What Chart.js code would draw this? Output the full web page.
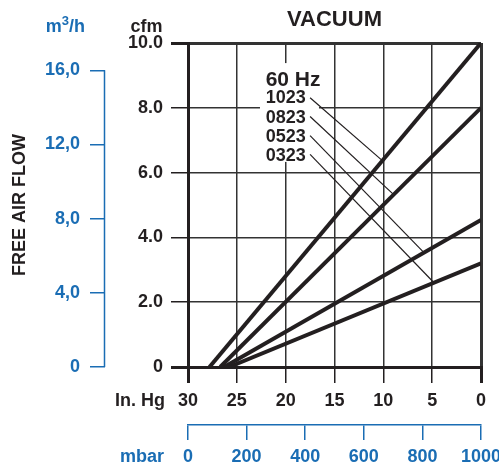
<!DOCTYPE html>
<html><head><meta charset="utf-8">
<script src="https://cdn.jsdelivr.net/npm/chart.js@4.4.1/dist/chart.umd.min.js"></script>
<style>html,body{margin:0;padding:0;background:#fff;}#wrap{width:499px;height:468px;position:relative}</style>
</head><body><div id="wrap"><canvas id="c" width="499" height="468"></canvas></div>
<script>
// ---- data ----
const models = ['1023', '0823', '0523', '0323'];
const zeroFlowVacuum = [27.8, 26.7, 26.3, 25.8];   // inHg where free air flow reaches 0
const openFlow = [10.0, 8.0, 4.54, 3.2];           // cfm at 0 inHg
const leaderStartVacuum = [17.5, 17.5, 17.5, 17.5];
const leaderStartFlow = [8.31, 7.73, 7.14, 6.56];
const leaderEndVacuum = [10.10, 8.94, 5.84, 4.81];
const leaderEndFlow = [6.37, 5.32, 3.53, 2.60];
const labelVacuum = 22.05;
const labelFlow = [8.14, 7.52, 6.95, 6.36];
const headingText = '60 Hz';
const headingFlow = 8.68;
const labelBoxVacuum = [22.63, 16.59];
const labelBoxFlow = [9.38, 6.33];
const inHgTicks = [30, 25, 20, 15, 10, 5, 0];
const cfmTicks = [0, 2, 4, 6, 8, 10];
const m3hTicks = [0, 4, 8, 12, 16];
const m3hMax = 17.47;
const mbarTicks = [0, 200, 400, 600, 800, 1000];

const INK = '#231f20', BLUE = '#1a6db4', GRID = '#333333';
const FONT = "'Liberation Sans', Arial, Helvetica, sans-serif";
Chart.defaults.font.family = FONT;
Chart.defaults.font.weight = 'bold';
Chart.defaults.font.size = 18;
Chart.defaults.color = INK;

const datasets = [];
models.forEach((m, i) => {
  datasets.push({
    label: m,
    data: [{x: zeroFlowVacuum[i], y: 0}, {x: 0, y: openFlow[i]}],
    borderColor: INK, borderWidth: 4, pointRadius: 0, showLine: true, fill: false
  });
});
models.forEach((m, i) => {
  datasets.push({
    label: m + ' leader',
    data: [{x: leaderStartVacuum[i], y: leaderStartFlow[i]}, {x: leaderEndVacuum[i], y: leaderEndFlow[i]}],
    borderColor: INK, borderWidth: 1.2, pointRadius: 0, showLine: true, fill: false
  });
});

const fixTicks = arr => s => { s.ticks = arr.map(v => ({value: v})); };
const edgeWidth = (a, b) => ctx => (ctx.tick && (ctx.tick.value === a || ctx.tick.value === b)) ? 3 : 1.5;

const decor = {
  id: 'decor',
  beforeDatasetsDraw(chart) {
    const {ctx, scales: {x, y}} = chart;
    const x0 = x.getPixelForValue(labelBoxVacuum[0]), x1 = x.getPixelForValue(labelBoxVacuum[1]);
    const y0 = y.getPixelForValue(labelBoxFlow[0]), y1 = y.getPixelForValue(labelBoxFlow[1]);
    ctx.save();
    ctx.fillStyle = '#fff';
    ctx.fillRect(Math.min(x0, x1), Math.min(y0, y1), Math.abs(x1 - x0), Math.abs(y1 - y0));
    ctx.restore();
  },
  afterDraw(chart) {
    const {ctx, chartArea, scales: {x, y, m3h, mbar}} = chart;
    ctx.save();
    // blue m3/h axis line
    ctx.strokeStyle = BLUE; ctx.lineWidth = 1.5;
    ctx.beginPath();
    ctx.moveTo(m3h.right - 0.5, m3h.getPixelForValue(0));
    ctx.lineTo(m3h.right - 0.5, m3h.getPixelForValue(m3hTicks[m3hTicks.length - 1]));
    ctx.stroke();

    // title
    ctx.fillStyle = INK;
    ctx.textBaseline = 'alphabetic';
    ctx.textAlign = 'center';
    ctx.font = 'bold 22px ' + FONT;
    ctx.fillText('VACUUM', (chartArea.left + chartArea.right) / 2, 26);
    // cfm unit
    ctx.font = 'bold 18px ' + FONT;
    ctx.fillText('cfm', (y.left + y.right) / 2, 31.5);
    // m3/h unit
    ctx.fillStyle = BLUE;
    ctx.textAlign = 'left';
    ctx.font = 'bold 18px ' + FONT;
    const wm = ctx.measureText('m').width, wh = ctx.measureText('/h').width;
    ctx.font = 'bold 13px ' + FONT;
    const w3 = ctx.measureText('3').width;
    let sx = m3h.right - 20 - (wm + w3 + wh);
    ctx.font = 'bold 18px ' + FONT;
    ctx.fillText('m', sx, 31.5); sx += wm;
    ctx.font = 'bold 13px ' + FONT;
    ctx.fillText('3', sx, 24.5); sx += w3;
    ctx.font = 'bold 18px ' + FONT;
    ctx.fillText('/h', sx, 31.5);

    // axis names left of the tick rows
    ctx.textBaseline = 'middle';
    ctx.textAlign = 'right';
    ctx.fillStyle = INK;
    ctx.font = 'bold 18px ' + FONT;
    ctx.fillText('In. Hg', x.left - 23, x.top + 16 + 7 + 10.8);
    ctx.fillStyle = BLUE;
    ctx.fillText('mbar', mbar.left - 24, mbar.top + 15 + 6 + 10.8);

    // annotation labels
    ctx.fillStyle = INK;
    ctx.textAlign = 'left';
    ctx.textBaseline = 'alphabetic';
    const lx = x.getPixelForValue(labelVacuum);
    ctx.font = 'bold 21px ' + FONT;
    ctx.fillText(headingText, lx, y.getPixelForValue(headingFlow));
    ctx.font = 'bold 18px ' + FONT;
    models.forEach((m, i) => ctx.fillText(m, lx, y.getPixelForValue(labelFlow[i])));
    ctx.restore();
  }
};

new Chart(document.getElementById('c'), {
  type: 'scatter',
  data: {datasets},
  options: {
    responsive: false, animation: false, events: [],
    layout: {padding: {top: 43, right: 18, left: 0, bottom: 0}},
    plugins: {legend: {display: false}, tooltip: {enabled: false}, title: {display: false}},
    scales: {
      x: {
        type: 'linear', position: 'bottom', reverse: true, min: 0, max: 30, weight: 0,
        afterBuildTicks: fixTicks(inHgTicks),
        ticks: {padding: 7, maxRotation: 0, autoSkip: false, color: INK, callback: v => String(v)},
        grid: {color: GRID, tickColor: INK, lineWidth: edgeWidth(0, 30), tickLength: 16},
        border: {display: true, color: INK, width: 3},
        afterFit: s => { s.height = 58; s.paddingLeft = 0; s.paddingRight = 0; }
      },
      mbar: {
        type: 'linear', position: 'bottom', min: 0, max: 1000, weight: 1,
        afterBuildTicks: fixTicks(mbarTicks),
        ticks: {padding: 6, maxRotation: 0, autoSkip: false, color: BLUE, callback: v => String(v)},
        grid: {drawOnChartArea: false, color: BLUE, lineWidth: 1.5, tickLength: 15},
        border: {display: true, color: BLUE, width: 1.5},
        afterFit: s => { s.height = 43; s.paddingLeft = 0; s.paddingRight = 0; }
      },
      y: {
        type: 'linear', position: 'left', min: 0, max: 10, weight: 0,
        afterBuildTicks: fixTicks(cfmTicks),
        ticks: {padding: 8, color: INK, callback: v => v === 0 ? '0' : v.toFixed(1)},
        grid: {color: GRID, tickColor: INK, lineWidth: edgeWidth(0, 10), tickLength: 17},
        border: {display: true, color: INK, width: 3},
        afterFit: s => { s.width = 83; s.paddingTop = 0; s.paddingBottom = 0; }
      },
      m3h: {
        type: 'linear', position: 'left', min: 0, max: m3hMax, weight: 1,
        afterBuildTicks: fixTicks(m3hTicks),
        ticks: {padding: 10, color: BLUE, callback: v => v === 0 ? '0' : v.toFixed(1).replace('.', ',')},
        grid: {drawOnChartArea: false, color: BLUE, lineWidth: 1.5, tickLength: 15},
        border: {display: false},
        title: {display: true, text: 'FREE AIR FLOW', color: INK, font: {size: 18, weight: 'bold'}, padding: {top: 9, bottom: 0}},
        afterFit: s => { s.width = 105; s.paddingTop = 0; s.paddingBottom = 0; }
      }
    }
  },
  plugins: [decor]
});
</script></body></html>
